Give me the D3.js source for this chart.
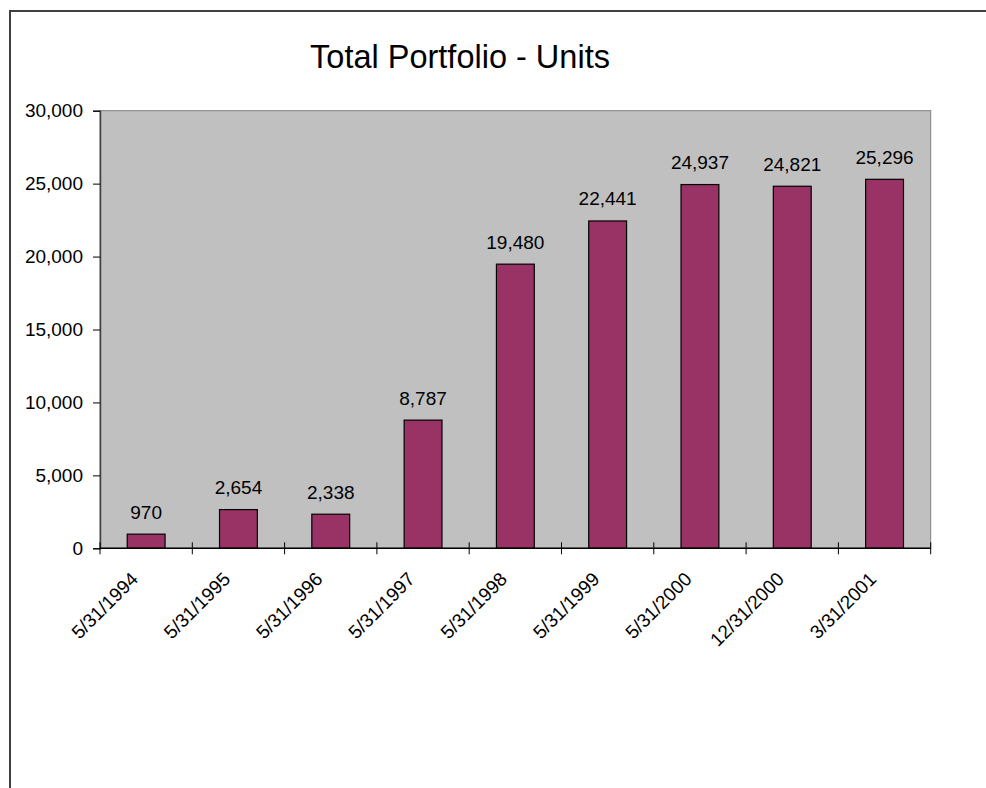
<!DOCTYPE html>
<html>
<head>
<meta charset="utf-8">
<script src="https://cdn.jsdelivr.net/npm/d3@7"></script>
<style>
  html, body { margin: 0; padding: 0; background: #fff; overflow: hidden; }
  svg { display: block; }
  text { font-family: "Liberation Sans", Arial, sans-serif; fill: #000; }
</style>
</head>
<body>
<svg id="chart" width="986" height="788"></svg>
<script>
const title = "Total Portfolio - Units";
const categories = ["5/31/1994", "5/31/1995", "5/31/1996", "5/31/1997", "5/31/1998", "5/31/1999", "5/31/2000", "12/31/2000", "3/31/2001"];
const units = [970, 2654, 2338, 8787, 19480, 22441, 24937, 24821, 25296];
const yTicks = [0, 5000, 10000, 15000, 20000, 25000, 30000];

const svg = d3.select("#chart");
const plot = { left: 100, right: 930.7, top: 110.7, bottom: 548.3 };

// outer chart border (extends past the visible window on right/bottom)
svg.append("rect")
  .attr("x", 10).attr("y", 11)
  .attr("width", 1000).attr("height", 800)
  .attr("fill", "#fff").attr("stroke", "#404040").attr("stroke-width", 2);

const x = d3.scaleBand()
  .domain(categories)
  .range([plot.left, plot.right])
  .paddingInner(0.59)
  .paddingOuter(0.295);

const y = d3.scaleLinear()
  .domain([0, 30000])
  .range([plot.bottom, plot.top]);

// plot area
svg.append("rect")
  .attr("x", plot.left).attr("y", plot.top)
  .attr("width", plot.right - plot.left).attr("height", plot.bottom - plot.top)
  .attr("fill", "#c0c0c0").attr("stroke", "#808080").attr("stroke-width", 1);

// title
svg.append("text")
  .attr("x", 460).attr("y", 68)
  .attr("text-anchor", "middle")
  .attr("font-size", 32.5)
  .text(title);

// bars
svg.append("g").selectAll("rect")
  .data(units)
  .join("rect")
  .attr("x", (d, i) => x(categories[i]))
  .attr("y", d => y(d))
  .attr("width", x.bandwidth())
  .attr("height", d => y(0) - y(d))
  .attr("fill", "#993366")
  .attr("stroke", "#000")
  .attr("stroke-width", 1.2);

// data labels
const fmt = d3.format(",");
svg.append("g").selectAll("text")
  .data(units)
  .join("text")
  .attr("x", (d, i) => x(categories[i]) + x.bandwidth() / 2)
  .attr("y", d => y(d) - 15.5)
  .attr("text-anchor", "middle")
  .attr("font-size", 19)
  .text(d => fmt(d));

// y axis
const yAxis = d3.axisLeft(y).tickValues(yTicks).tickSize(7).tickPadding(10).tickFormat(fmt);
const gy = svg.append("g").attr("transform", `translate(${plot.left},0)`).call(yAxis);
gy.select(".domain").attr("stroke", "#404040").attr("stroke-width", 1.5);
gy.selectAll(".tick line").attr("stroke", "#000");
gy.selectAll(".tick text").attr("font-size", 19).attr("font-family", '"Liberation Sans", Arial, sans-serif').attr("fill", "#000");

// x axis line
svg.append("line")
  .attr("x1", plot.left).attr("x2", plot.right)
  .attr("y1", y(0)).attr("y2", y(0))
  .attr("stroke", "#000").attr("stroke-width", 1.5);

// x ticks at category boundaries (crossing)
const step = x.step();
const bounds = categories.map(c => x(c) + x.bandwidth() / 2 - step / 2).concat([plot.right]);
svg.append("g").selectAll("line")
  .data(bounds)
  .join("line")
  .attr("x1", d => d).attr("x2", d => d)
  .attr("y1", y(0) - 6).attr("y2", y(0) + 6)
  .attr("stroke", "#000").attr("stroke-width", 1);

// x labels rotated -45
svg.append("g").selectAll("text")
  .data(categories)
  .join("text")
  .attr("transform", c => `translate(${x(c) + x.bandwidth() / 2 - 7},${y(0) + 32}) rotate(-45)`)
  .attr("text-anchor", "end")
  .attr("font-size", 19)
  .text(c => c);
</script>
</body>
</html>
